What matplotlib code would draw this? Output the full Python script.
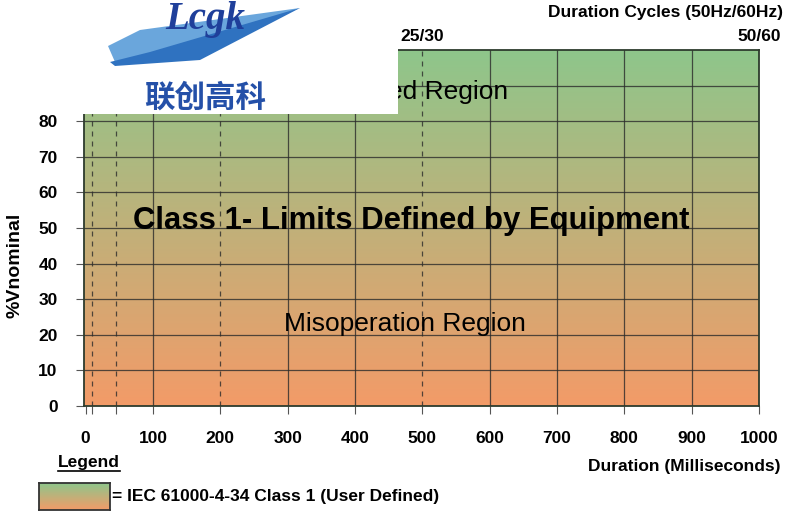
import numpy as np
import matplotlib
matplotlib.use('Agg')
import matplotlib.pyplot as plt
from matplotlib.patches import Rectangle, Polygon

plt.rcParams['font.family'] = ['Liberation Sans', 'DejaVu Sans']

# axis data
x_ticks = [0, 100, 200, 300, 400, 500, 600, 700, 800, 900, 1000]
x_solid = [100, 300, 400, 600, 700, 800, 900]
x_dashed = [10, 45, 200, 500]
y_ticks = [0, 10, 20, 30, 40, 50, 60, 70, 80]
y_grid = [10, 20, 30, 40, 50, 60, 70, 80, 90]
cycle_pos = [500, 1000]
cycle_labels = ['25/30', '50/60']

top_color = np.array([0x8e, 0xc6, 0x8b]) / 255
bot_color = np.array([0xf3, 0x9b, 0x68]) / 255

W, H = 791, 513
fig = plt.figure(figsize=(W / 100, H / 100), dpi=100)


def fx(px):
    return px / W


def fy(py):
    return 1 - py / H


ax = fig.add_axes([fx(84), fy(406), fx(759) - fx(84), fy(50) - fy(406)])
ax.set_xlim(-2.5, 1000)
ax.set_ylim(0, 100)

# gradient fill
t = np.linspace(0, 1, 256)[:, None]
grad = (top_color * (1 - t) + bot_color * t)[:, None, :]
ax.imshow(grad, extent=[-2.5, 1000, 0, 100], aspect='auto', zorder=0)

for x in x_solid:
    ax.axvline(x, color='#2b2b2b', lw=0.9, alpha=0.8, zorder=1)
for x in x_dashed:
    ax.axvline(x, color='#2b2b2b', lw=0.9, alpha=0.8, ls=(0, (4, 4)), zorder=1)
for y in y_grid:
    ax.axhline(y, color='#2b2b2b', lw=0.9, alpha=0.8, zorder=1)

for s in ax.spines.values():
    s.set_color('#2d3b2d')
    s.set_linewidth(1.3)

ax.set_xticks(x_ticks)
ax.set_xticks(x_dashed, minor=True)
ax.set_xticklabels([str(v) for v in x_ticks], fontsize=12.5, fontweight='bold')
ax.set_yticks(y_ticks)
ax.set_yticklabels([str(v) for v in y_ticks], fontsize=12.5, fontweight='bold')
ax.tick_params(axis='x', which='both', length=6, width=0.8, color='#555555', pad=12)
ax.tick_params(axis='y', length=6, width=0.8, color='#555555', pad=13)

ax.text(484, 52, 'Class 1- Limits Defined by Equipment', fontsize=22.4,
        fontweight='bold', ha='center', va='center', zorder=3)
ax.text(474, 23, 'Misoperation Region', fontsize=19, ha='center', va='center', zorder=3)
ax.text(627, 88.2, 'Unaffected Region', fontsize=19, ha='right', va='center', zorder=3)

fig.text(fx(15), fy(265), '%Vnominal', rotation=90, fontsize=14, fontweight='bold',
         ha='center', va='center')
fig.text(fx(783), fy(12), 'Duration Cycles (50Hz/60Hz)', fontsize=12.5,
         fontweight='bold', ha='right', va='center')
for pos, lab in zip(cycle_pos, cycle_labels):
    ax.annotate(lab, xy=(pos, 100), xycoords='data', xytext=(0, 10),
                textcoords='offset points', ha='center', va='center',
                fontsize=12.5, fontweight='bold', annotation_clip=False)
fig.text(fx(781), fy(466), 'Duration (Milliseconds)', fontsize=12.5,
         fontweight='bold', ha='right', va='center')

# legend
fig.text(fx(58), fy(462), 'Legend', fontsize=12.5, fontweight='bold',
         ha='left', va='center')
fig.add_artist(plt.Line2D([fx(58), fx(120)], [fy(471), fy(471)], color='black', lw=1.2))
lax = fig.add_axes([fx(39), fy(510), fx(110) - fx(39), fy(483) - fy(510)])
lax.imshow(grad, aspect='auto')
lax.set_xticks([])
lax.set_yticks([])
for s in lax.spines.values():
    s.set_color('#333333')
    s.set_linewidth(1.3)
fig.text(fx(112), fy(496), '= IEC 61000-4-34 Class 1 (User Defined)', fontsize=12.5,
         fontweight='bold', ha='left', va='center')

# logo block
fig.add_artist(Rectangle((0, fy(114)), fx(398), 1 - fy(114), transform=fig.transFigure,
                         facecolor='white', edgecolor='none', zorder=5))
fig.add_artist(Polygon([[fx(108), fy(46)], [fx(140), fy(30)], [fx(300), fy(8)],
                        [fx(190), fy(52)], [fx(115), fy(62)]],
                       closed=True, transform=fig.transFigure,
                       facecolor='#6aa6dc', edgecolor='none', zorder=6))
fig.add_artist(Polygon([[fx(110), fy(62)], [fx(150), fy(52)], [fx(300), fy(8)],
                        [fx(200), fy(60)], [fx(115), fy(66)]],
                       closed=True, transform=fig.transFigure,
                       facecolor='#2f72c0', edgecolor='none', zorder=6))
fig.text(fx(205), fy(20), 'Lcgk', fontsize=28, fontweight='bold', style='italic',
         family=['Liberation Serif', 'DejaVu Serif'], color='#1f3f9a',
         ha='center', va='center', zorder=7)
fig.text(fx(205), fy(98), '联创高科', fontsize=22, fontweight='bold',
         family=['Noto Sans CJK SC', 'DejaVu Sans'], color='#2450a8',
         ha='center', va='center', zorder=7)

fig.savefig('out.png', dpi=100)
